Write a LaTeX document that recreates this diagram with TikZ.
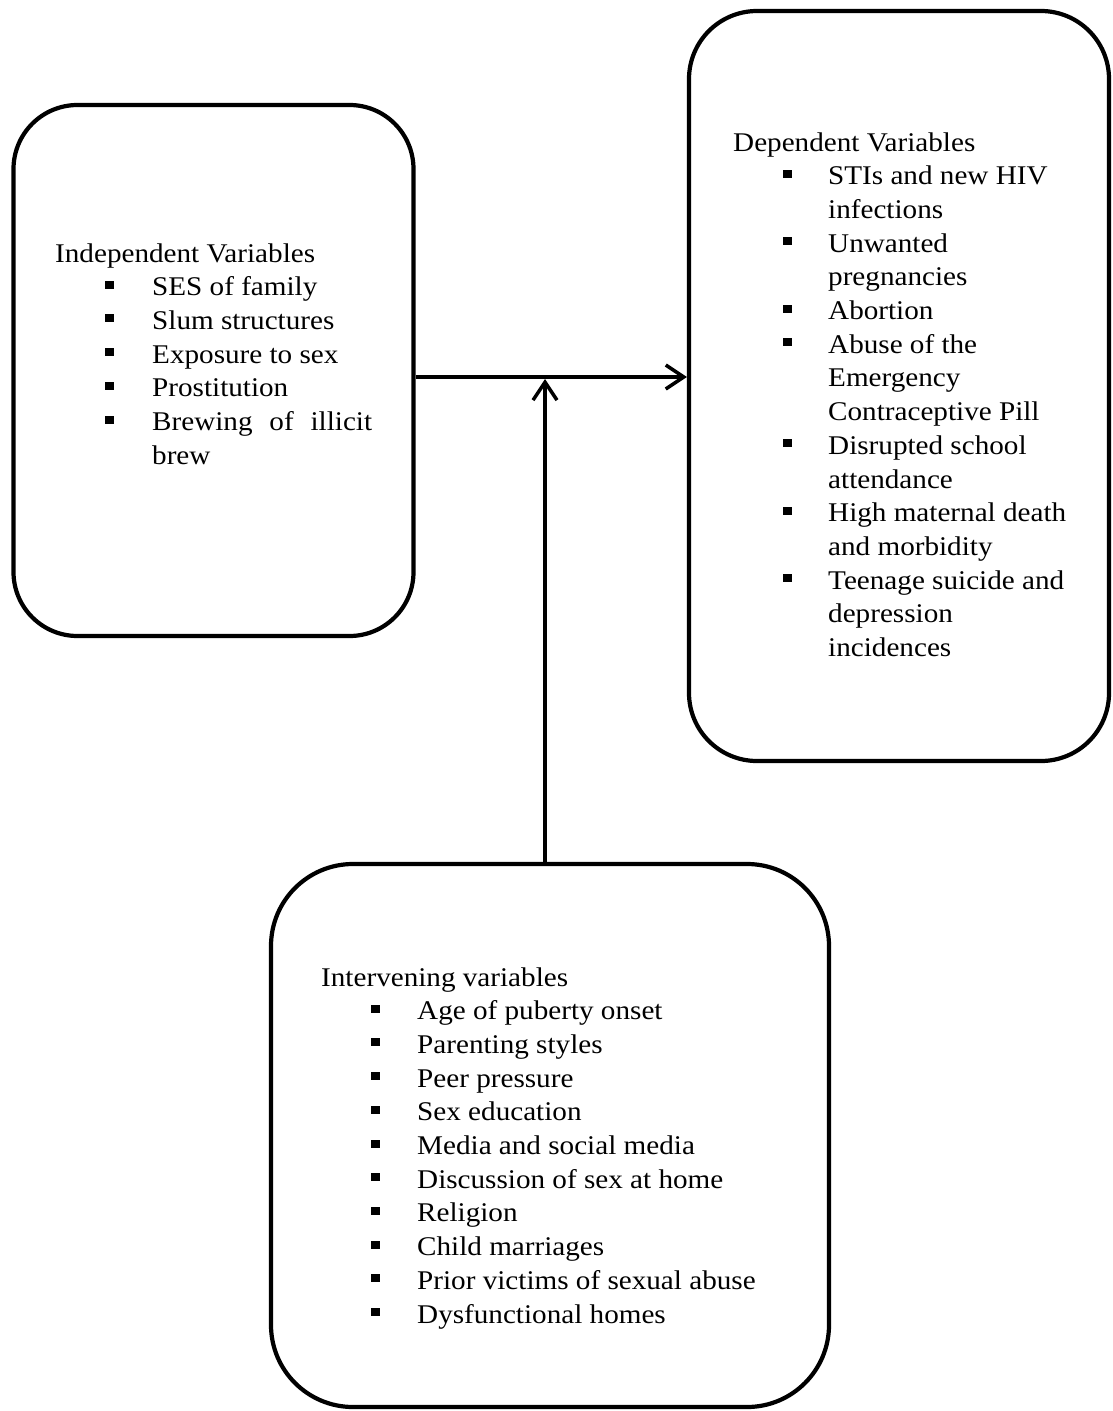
\documentclass[tikz,border=0pt]{standalone}
\usepackage{fontspec}
\setmainfont{Liberation Serif}[FakeStretch=1.08]
\usetikzlibrary{arrows.meta}
\newcommand\sqb{\rule[7pt]{9pt}{8pt}}
\newcommand\itm[1]{\hspace*{50pt}\makebox[46pt][l]{\sqb}#1}
\begin{document}
\begin{tikzpicture}[x=1pt,y=-1pt,
  box/.style={draw,line width=4.2pt,shape=rectangle,inner sep=0pt},
  txt/.style={anchor=base west,inner sep=0pt,font=\fontsize{27}{33.7}\selectfont},
  conn/.style={line width=3.5pt,-{Straight Barb[length=18pt,width=24pt]}}]
\useasboundingbox (0,0) rectangle (1113,1411);
\clip (0,0) rectangle (1113,1411);
% boxes
\node[box,rounded corners=64pt,minimum width=400pt,minimum height=531pt] (L) at (213.5,370.5) {};
\node[box,rounded corners=68pt,minimum width=420pt,minimum height=750pt] (R) at (899,386) {};
\node[box,rounded corners=82pt,minimum width=558pt,minimum height=543pt] (B) at (550,1135.5) {};
% texts
\node[txt] (Lt) at (55,262) {\parbox[t]{340pt}{Independent Variables\\
\hspace*{50pt}\makebox[47pt][l]{\sqb}SES of family\\
\hspace*{50pt}\makebox[47pt][l]{\sqb}Slum structures\\
\hspace*{50pt}\makebox[47pt][l]{\sqb}Exposure to sex\\
\hspace*{50pt}\makebox[47pt][l]{\sqb}Prostitution\\
\hspace*{50pt}\makebox[47pt][l]{\sqb}\makebox[220pt][s]{Brewing of illicit}\\
\hspace*{97pt}brew}};
\node[txt] (Rt) at (733,151) {\parbox[t]{370pt}{Dependent Variables\\
\hspace*{50pt}\makebox[45pt][l]{\sqb}STIs and new HIV\\
\hspace*{95pt}infections\\
\hspace*{50pt}\makebox[45pt][l]{\sqb}Unwanted\\
\hspace*{95pt}pregnancies\\
\hspace*{50pt}\makebox[45pt][l]{\sqb}Abortion\\
\hspace*{50pt}\makebox[45pt][l]{\sqb}Abuse of the\\
\hspace*{95pt}Emergency\\
\hspace*{95pt}Contraceptive Pill\\
\hspace*{50pt}\makebox[45pt][l]{\sqb}Disrupted school\\
\hspace*{95pt}attendance\\
\hspace*{50pt}\makebox[45pt][l]{\sqb}High maternal death\\
\hspace*{95pt}and morbidity\\
\hspace*{50pt}\makebox[45pt][l]{\sqb}Teenage suicide and\\
\hspace*{95pt}depression\\
\hspace*{95pt}incidences}};
\node[txt] (Bt) at (321,986) {\parbox[t]{480pt}{Intervening variables\\
\itm{Age of puberty onset}\\
\itm{Parenting styles}\\
\itm{Peer pressure}\\
\itm{Sex education}\\
\itm{Media and social media}\\
\itm{Discussion of sex at home}\\
\itm{Religion}\\
\itm{Child marriages}\\
\itm{Prior victims of sexual abuse}\\
\itm{Dysfunctional homes}}};
% connectors
\coordinate (h) at (0,377);
\coordinate (j) at (545,379);
\draw[conn] (L.east |- h) -- (R.west |- h);
\draw[conn] (B.north -| j) -- (j);
\end{tikzpicture}
\end{document}
